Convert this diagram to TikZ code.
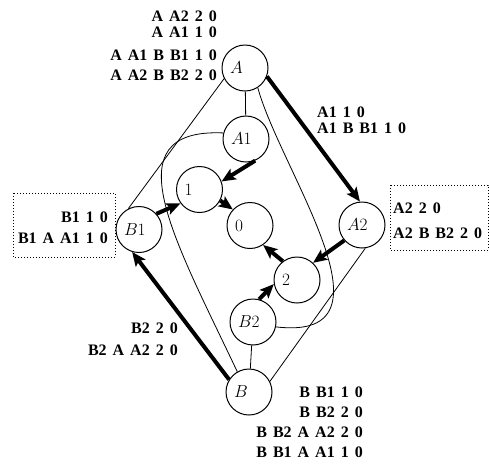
\documentclass[tikz,border=0pt]{standalone}
\usepackage{fontspec}
\newfontfamily\lblfont[WordSpace=1.5]{Liberation Serif}
\usetikzlibrary{arrows.meta}
\begin{document}
\begin{tikzpicture}[x=1pt,y=1pt,
  st/.style={circle, draw, line width=1pt, minimum size=46pt, inner sep=0pt, text width=30pt, align=left, font=\fontsize{16.5}{18}\selectfont},
  conn/.style={line width=0.8pt},
  heavy/.style={line width=4pt, -{Stealth[length=14pt,width=12pt,inset=3pt]}},
  lbl/.style={font=\lblfont\bfseries\fontsize{16}{18}\selectfont, inner sep=0pt},
  box/.style={draw, dotted, line width=1pt}
]
\useasboundingbox (0,0) rectangle (489,-467);
% states
\node[st] (A)  at (245,-68)      {$A$};
\node[st] (A1) at (246,-139)     {$A1$};
\node[st] (n1) at (199.5,-189.5) {$1$};
\node[st] (n0) at (250,-225.5)   {$0$};
\node[st] (B1) at (139,-229.5)   {$B1$};
\node[st] (A2) at (362,-225)     {$A2$};
\node[st] (n2) at (297,-280)     {$2$};
\node[st] (B2) at (253,-322)     {$B2$};
\node[st] (B)  at (249,-392)     {$B$};
% dotted boxes
\draw[box] (13,-193) rectangle (115,-257);
\draw[box] (390,-185) rectangle (488,-250);
% labels
\node[lbl, anchor=base east] (tl1) at (217,-21) {A A2 2 0};
\node[lbl, anchor=base east] (tl2) at (217,-37) {A A1 1 0};
\node[lbl, anchor=base east] (tl3) at (217,-60) {A A1 B B1 1 0};
\node[lbl, anchor=base east] (tl4) at (217,-80) {A A2 B B2 2 0};
\node[lbl, anchor=base west] (ar1) at (317,-117) {A1 1 0};
\node[lbl, anchor=base west] (ar2) at (317,-133) {A1 B B1 1 0};
\node[lbl, anchor=base west] (rb1) at (393,-213) {A2 2 0};
\node[lbl, anchor=base west] (rb2) at (393,-238) {A2 B B2 2 0};
\node[lbl, anchor=base east] (lb1) at (108,-222) {B1 1 0};
\node[lbl, anchor=base east] (lb2) at (108,-243) {B1 A A1 1 0};
\node[lbl, anchor=base east] (bl1) at (178,-333) {B2 2 0};
\node[lbl, anchor=base east] (bl2) at (178,-355) {B2 A A2 2 0};
\node[lbl, anchor=base east] (br1) at (363,-397) {B B1 1 0};
\node[lbl, anchor=base east] (br2) at (363,-417) {B B2 2 0};
\node[lbl, anchor=base east] (br3) at (363,-437) {B B2 A A2 2 0};
\node[lbl, anchor=base east] (br4) at (363,-457) {B B1 A A1 1 0};
% thin connectors
\draw[conn] (A.207) -- (B1.117);
\draw[conn] (A) -- (A1);
\draw[conn] (A.-57) .. controls (280,-170) and (405,-342) .. (B2.-12);
\draw[conn] (A1.165) .. controls (110,-128) and (175,-240) .. (B.120);
\draw[conn] (B) -- (B2);
\draw[conn] (B.27) -- (A2.-82);
% heavy arrows
\draw[heavy] (A.-21) -- (A2.95);
\draw[heavy] (B.148) -- (B1.-107);
\draw[heavy] (A1.-67) -- (n1.20);
\draw[heavy] (n1.-28) -- (n0.137);
\draw[heavy] (B1.42) -- (n1.216);
\draw[heavy] (A2.221) -- (n2.47);
\draw[heavy] (n2.127) -- (n0.-56);
\draw[heavy] (B2.75) -- (n2.190);
\end{tikzpicture}
\end{document}
